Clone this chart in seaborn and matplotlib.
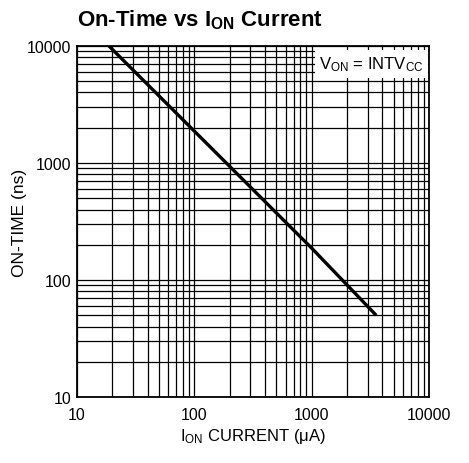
import matplotlib
matplotlib.use('Agg')
import matplotlib.pyplot as plt
import seaborn as sns
import pandas as pd
from matplotlib.ticker import LogLocator, FixedLocator, NullFormatter

# data
current_uA = [18.7, 100, 1000, 3540]
on_time_ns = [10000, 1870, 187, 50]

x_ticks = [10, 100, 1000, 10000]
y_ticks = [10, 100, 1000, 10000]

df = pd.DataFrame({'current': current_uA, 'on_time': on_time_ns})

sns.set_style('white')
narrow = ['Liberation Sans Narrow', 'Liberation Sans', 'DejaVu Sans']
plt.rcParams['font.family'] = ['Liberation Sans', 'DejaVu Sans']
plt.rcParams['text.color'] = 'black'
plt.rcParams['axes.labelcolor'] = 'black'

fig = plt.figure(figsize=(4.69, 4.64), dpi=100)
ax = fig.add_axes([0.164, 0.142, 0.751, 0.757])

sns.lineplot(data=df, x='current', y='on_time', color='black', linewidth=2.4, ax=ax,
             solid_capstyle='butt')

ax.set_xscale('log')
ax.set_yscale('log')
ax.set_xlim(10, 10000)
ax.set_ylim(10, 10000)

ax.xaxis.set_major_locator(FixedLocator(x_ticks))
ax.yaxis.set_major_locator(FixedLocator(y_ticks))
ax.set_xticklabels([str(v) for v in x_ticks])
ax.set_yticklabels([str(v) for v in y_ticks])
ax.xaxis.set_minor_locator(LogLocator(base=10, subs=range(2, 10)))
ax.yaxis.set_minor_locator(LogLocator(base=10, subs=range(2, 10)))
ax.xaxis.set_minor_formatter(NullFormatter())
ax.yaxis.set_minor_formatter(NullFormatter())

ax.grid(True, which='both', color='black', linewidth=0.9)
ax.tick_params(which='both', length=0, labelsize=11.5, colors='black')
ax.tick_params(axis='y', pad=4)
ax.tick_params(axis='x', pad=7)
for s in ax.spines.values():
    s.set_color('black')
    s.set_linewidth(1.3)

ax.set_xlabel(r'$\mathregular{I_{ON}}$ CURRENT ($\mathregular{\mu}$A)', fontsize=12,
              family=narrow, labelpad=3, color='black')
ax.set_ylabel('ON-TIME (ns)', fontsize=12.5, family=narrow, labelpad=0, color='black')

fig.text(0.164, 0.957, r'On-Time vs $\mathregular{I_{ON}}$ Current', fontsize=16,
         fontweight='bold', family=narrow, ha='left', va='center', color='black')

ax.text(0.985, 0.975, r'$\mathregular{V_{ON}}$ = $\mathregular{INTV_{CC}}$',
        transform=ax.transAxes, ha='right', va='top', fontsize=12, family=narrow,
        color='black', bbox=dict(facecolor='white', edgecolor='none', pad=3), zorder=5)

fig.savefig('out.png', dpi=100)
